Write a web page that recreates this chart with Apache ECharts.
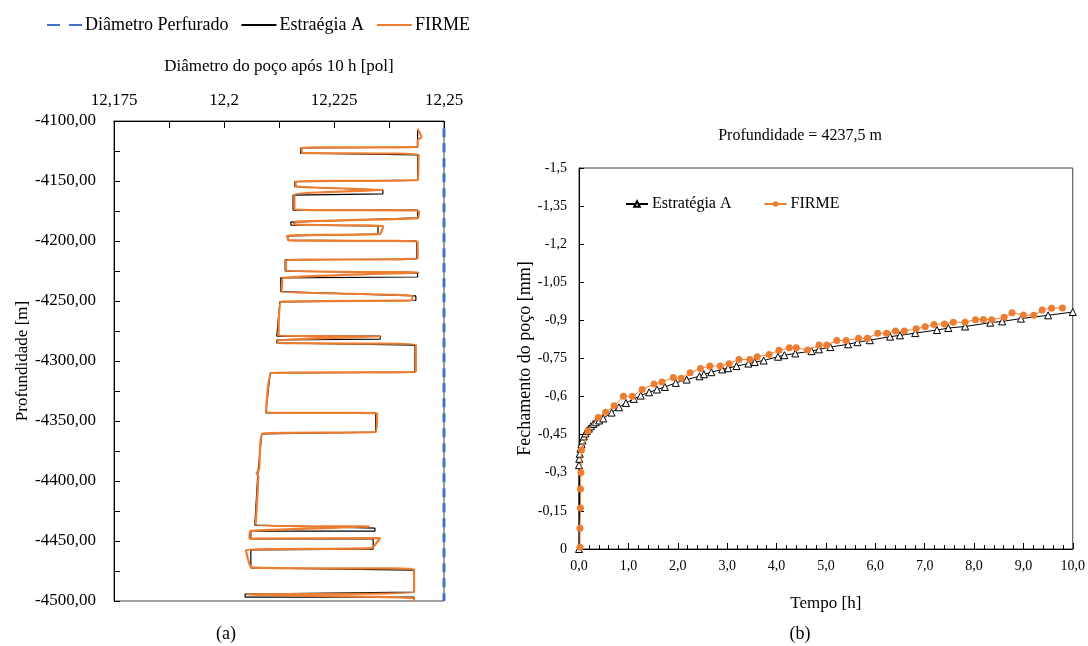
<!DOCTYPE html>
<html>
<head>
<meta charset="utf-8">
<script src="https://cdn.jsdelivr.net/npm/echarts@6/dist/echarts.min.js"></script>
<style>
  html, body { margin: 0; padding: 0; background: #fff; }
  #chart { width: 1088px; height: 646px; }
</style>
</head>
<body>
<div id="chart"></div>
<script>
// (a) perfil de diametro x profundidade
var perfDiam = [12.25, 12.25];
var perfDepth = [-4106, -4500];

var estDiam = [12.2440, 12.2440, 12.2174, 12.2174, 12.2440, 12.2440, 12.2161, 12.2161, 12.2361, 12.2361,
  12.2157, 12.2157, 12.2440, 12.2440, 12.2152, 12.2152, 12.2350, 12.2350, 12.2145, 12.2145,
  12.2438, 12.2438, 12.2139, 12.2139, 12.2440, 12.2440, 12.2129, 12.2129, 12.2436, 12.2436,
  12.2127, 12.2120, 12.2355, 12.2355, 12.2120, 12.2120, 12.2434, 12.2434, 12.2105, 12.2095,
  12.2345, 12.2345, 12.2086, 12.2077, 12.2070, 12.2343, 12.2343, 12.2061, 12.2061, 12.2339,
  12.2339, 12.2061, 12.2061, 12.2432, 12.2432, 12.2048, 12.2048, 12.2432, 12.2432];
var estDepth = [-4107.5, -4121.7, -4122.5, -4126.7, -4128.3, -4149.2, -4150.6, -4154.8, -4157.5, -4160.8,
  -4161.7, -4174.2, -4174.2, -4180.8, -4184.2, -4186.7, -4187.5, -4194.2, -4195.8, -4199.2,
  -4200.0, -4215.0, -4215.8, -4225.0, -4226.7, -4230.0, -4230.8, -4242.2, -4245.8, -4249.6,
  -4250.8, -4279.2, -4279.2, -4281.7, -4282.5, -4285.0, -4286.7, -4309.2, -4310.0, -4343.3,
  -4343.3, -4359.2, -4360.8, -4393.3, -4436.7, -4439.2, -4441.7, -4441.7, -4448.3, -4448.3,
  -4456.7, -4457.5, -4472.5, -4474.2, -4492.5, -4494.2, -4496.7, -4496.7, -4500.0];

var firmeDiam = [12.2440, 12.2449, 12.2440, 12.2440, 12.2176, 12.2178, 12.2442, 12.2441, 12.2163, 12.2163,
  12.2362, 12.2160, 12.2160, 12.2443, 12.2441, 12.2165, 12.2158, 12.2362, 12.2355, 12.2143,
  12.2148, 12.2440, 12.2440, 12.2141, 12.2141, 12.2442, 12.2135, 12.2131, 12.2428, 12.2428,
  12.2130, 12.2124, 12.2357, 12.2122, 12.2122, 12.2436, 12.2436, 12.2108, 12.2096, 12.2348,
  12.2345, 12.2088, 12.2080, 12.2074, 12.2078, 12.2072, 12.2330, 12.2060, 12.2058, 12.2355,
  12.2335, 12.2050, 12.2062, 12.2432, 12.2432, 12.2052, 12.2432, 12.2432];
var firmeDepth = [-4106.5, -4113.5, -4116.0, -4121.7, -4122.2, -4126.5, -4127.8, -4149.0, -4150.3, -4154.5,
  -4157.5, -4161.2, -4173.8, -4174.8, -4181.0, -4183.8, -4186.3, -4187.5, -4194.0, -4195.5,
  -4199.5, -4200.5, -4214.5, -4216.0, -4224.6, -4226.2, -4230.8, -4241.8, -4245.5, -4249.5,
  -4250.5, -4279.0, -4279.5, -4282.5, -4285.0, -4286.5, -4309.0, -4310.0, -4343.0, -4343.5,
  -4359.0, -4360.5, -4390.0, -4393.5, -4396.0, -4436.2, -4438.0, -4441.5, -4448.0, -4447.5,
  -4456.0, -4457.5, -4472.0, -4473.5, -4492.5, -4494.5, -4497.5, -4500.0];

// (b) fechamento x tempo
var estT = [0, 0, 0.005, 0.015, 0.03, 0.05, 0.07, 0.1, 0.13, 0.16, 0.2, 0.24, 0.29, 0.34, 0.41, 0.49,
  0.66, 0.81, 0.95, 1.11, 1.25, 1.42, 1.58, 1.74, 1.96, 2.18, 2.44, 2.53, 2.68, 2.90, 3.02, 3.19,
  3.43, 3.56, 3.74, 4.03, 4.16, 4.38, 4.71, 4.86, 5.09, 5.45, 5.64, 5.89, 6.30, 6.50, 6.81, 7.25,
  7.48, 7.82, 8.33, 8.57, 8.95, 9.50, 10.0];
var estV = [0, -0.33, -0.355, -0.375, -0.395, -0.413, -0.427, -0.443, -0.455, -0.465, -0.474, -0.483, -0.492, -0.499, -0.506, -0.514,
  -0.537, -0.558, -0.575, -0.591, -0.604, -0.617, -0.628, -0.638, -0.654, -0.667, -0.680, -0.688, -0.696, -0.707, -0.712, -0.720,
  -0.730, -0.736, -0.742, -0.757, -0.763, -0.770, -0.779, -0.786, -0.795, -0.806, -0.814, -0.822, -0.836, -0.841, -0.850, -0.862,
  -0.870, -0.876, -0.891, -0.896, -0.907, -0.920, -0.933];

var firmeT = [0.02, 0.02, 0.03, 0.03, 0.04, 0.05, 0.18, 0.39, 0.54, 0.71, 0.90, 1.08, 1.28, 1.52, 1.68, 1.91,
  2.07, 2.25, 2.46, 2.65, 2.86, 3.04, 3.24, 3.46, 3.61, 3.85, 4.05, 4.26, 4.40, 4.63, 4.86, 5.02,
  5.22, 5.41, 5.66, 5.84, 6.05, 6.23, 6.41, 6.59, 6.83, 7.01, 7.19, 7.40, 7.58, 7.82, 8.03, 8.19,
  8.36, 8.61, 8.77, 9.00, 9.21, 9.38, 9.57, 9.79];
var firmeV = [-0.007, -0.082, -0.161, -0.236, -0.301, -0.391, -0.465, -0.518, -0.538, -0.564, -0.601, -0.601, -0.628, -0.650, -0.657, -0.675,
  -0.672, -0.694, -0.711, -0.720, -0.720, -0.729, -0.746, -0.746, -0.757, -0.766, -0.782, -0.792, -0.792, -0.783, -0.803, -0.803,
  -0.821, -0.821, -0.830, -0.830, -0.849, -0.849, -0.858, -0.858, -0.867, -0.875, -0.884, -0.886, -0.893, -0.893, -0.903, -0.904,
  -0.903, -0.912, -0.930, -0.921, -0.920, -0.941, -0.948, -0.949];

function zip(a, b) {
  var out = [];
  for (var i = 0; i < a.length; i++) out.push([a[i], b[i]]);
  return out;
}

var FONT = '"Liberation Serif", "Times New Roman", serif';
var LARANJA = '#ED7D31';
var AZUL = '#4472C4';

var chartDom = document.getElementById('chart');
var myChart = echarts.init(chartDom);
var option;

option = {
  animation: false,
  textStyle: { fontFamily: FONT, color: '#000' },
  graphic: [
    { type: 'text', x: 800, y: 136, style: { text: 'Profundidade = 4237,5 m', font: '16px ' + FONT, fill: '#000', align: 'center', verticalAlign: 'middle' } },
    { type: 'text', x: 226, y: 634, style: { text: '(a)', font: '18px ' + FONT, fill: '#000', align: 'center', verticalAlign: 'middle' } },
    { type: 'text', x: 800, y: 634, style: { text: '(b)', font: '18px ' + FONT, fill: '#000', align: 'center', verticalAlign: 'middle' } }
  ],
  legend: [
    {
      left: 41, top: 11,
      itemWidth: 35, itemHeight: 12, itemGap: 12,
      itemStyle: { opacity: 0 },
      textStyle: { fontFamily: FONT, fontSize: 18, color: '#000', padding: [0, 0, 0, -2] },
      data: [
        { name: 'Diâmetro Perfurado', lineStyle: { type: [13, 9] } },
        'Estraégia A',
        'FIRME'
      ]
    },
    {
      left: 620, top: 191,
      itemWidth: 22, itemHeight: 7, itemGap: 32,
      textStyle: { fontFamily: FONT, fontSize: 16, color: '#000', padding: [0, 0, 0, -1] },
      data: ['Estratégia A', 'FIRME (b)'],
      formatter: function (n) { return n === 'FIRME (b)' ? 'FIRME' : n; }
    }
  ],
  grid: [
    { left: 114, top: 121, width: 330, height: 480, show: true, borderColor: '#404040', borderWidth: 1, containLabel: false },
    { left: 579, top: 168, width: 495, height: 381, show: true, borderColor: '#404040', borderWidth: 1, containLabel: false }
  ],
  xAxis: [
    {
      gridIndex: 0, type: 'value', position: 'top',
      min: 12.175, max: 12.25, interval: 0.0125,
      name: 'Diâmetro do poço após 10 h [pol]', nameLocation: 'middle', nameGap: 46,
      nameTextStyle: { fontFamily: FONT, fontSize: 17, color: '#000' },
      axisLine: { lineStyle: { color: '#000', width: 1 } },
      axisTick: { inside: true, length: 7, lineStyle: { color: '#000' } },
      axisLabel: {
        margin: 12, fontFamily: FONT, fontSize: 17, color: '#000',
        formatter: function (v) {
          var k = Math.round((v - 12.175) / 0.0125);
          return k % 2 === 0 ? String(+v.toFixed(3)).replace('.', ',') : '';
        }
      },
      splitLine: { show: false }
    },
    {
      gridIndex: 1, type: 'value', position: 'bottom',
      min: 0, max: 10, interval: 1,
      name: 'Tempo [h]', nameLocation: 'middle', nameGap: 46,
      nameTextStyle: { fontFamily: FONT, fontSize: 17, color: '#000' },
      axisLine: { onZero: false, lineStyle: { color: '#000', width: 1 } },
      axisTick: { inside: true, length: 6, lineStyle: { color: '#000' } },
      minorTick: { show: true, splitNumber: 5, length: 4, lineStyle: { color: '#000' } },
      axisLabel: {
        margin: 10, fontFamily: FONT, fontSize: 14, color: '#000',
        formatter: function (v) { return v.toFixed(1).replace('.', ','); }
      },
      splitLine: { show: false }
    }
  ],
  yAxis: [
    {
      gridIndex: 0, type: 'value',
      min: -4500, max: -4100, interval: 25,
      name: 'Profundidade [m]', nameLocation: 'middle', nameGap: 83,
      nameTextStyle: { fontFamily: FONT, fontSize: 17, color: '#000' },
      axisLine: { show: true, onZero: false, lineStyle: { color: '#000', width: 1 } },
      axisTick: { show: true, inside: true, length: 6, lineStyle: { color: '#000' } },
      axisLabel: {
        margin: 18, fontFamily: FONT, fontSize: 17, color: '#000',
        formatter: function (v) {
          return Math.round(v) % 50 === 0 ? v.toFixed(2).replace('.', ',') : '';
        }
      },
      splitLine: { show: false }
    },
    {
      gridIndex: 1, type: 'value', inverse: true,
      min: -1.5, max: 0, interval: 0.15,
      name: 'Fechamento do poço [mm]', nameLocation: 'middle', nameGap: 43,
      nameTextStyle: { fontFamily: FONT, fontSize: 18, color: '#000' },
      axisLine: { show: true, onZero: false, lineStyle: { color: '#000', width: 1 } },
      axisTick: { show: true, inside: true, length: 5, lineStyle: { color: '#000' } },
      axisLabel: {
        margin: 12, fontFamily: FONT, fontSize: 14, color: '#000',
        formatter: function (v) {
          var r = +v.toFixed(2);
          return r === 0 ? '0' : String(r).replace('.', ',');
        }
      },
      splitLine: { show: false }
    }
  ],
  series: [
    {
      name: 'Diâmetro Perfurado', type: 'line', xAxisIndex: 0, yAxisIndex: 0,
      symbol: 'none', color: AZUL,
      lineStyle: { color: AZUL, width: 3, type: [9, 6] },
      data: zip(perfDiam, perfDepth), z: 3
    },
    {
      name: 'Estraégia A', type: 'line', xAxisIndex: 0, yAxisIndex: 0,
      symbol: 'none', color: '#000',
      lineStyle: { color: '#000', width: 1.2 },
      data: zip(estDiam, estDepth), z: 2
    },
    {
      name: 'FIRME', type: 'line', xAxisIndex: 0, yAxisIndex: 0,
      symbol: 'none', color: LARANJA, smooth: 0.12,
      lineStyle: { color: LARANJA, width: 2.2 },
      data: zip(firmeDiam, firmeDepth), z: 4
    },
    {
      name: 'Estratégia A', type: 'line', xAxisIndex: 1, yAxisIndex: 1,
      symbol: 'triangle', symbolSize: 7, color: '#000',
      lineStyle: { color: '#000', width: 1 },
      itemStyle: { color: '#fff', borderColor: '#000', borderWidth: 1 },
      data: zip(estT, estV), z: 3
    },
    {
      name: 'FIRME (b)', type: 'line', xAxisIndex: 1, yAxisIndex: 1,
      symbol: 'circle', symbolSize: 7, color: LARANJA,
      lineStyle: { color: LARANJA, width: 1 },
      itemStyle: { color: LARANJA },
      data: zip(firmeT, firmeV), z: 4
    }
  ]
};

option && myChart.setOption(option);
</script>
</body>
</html>
